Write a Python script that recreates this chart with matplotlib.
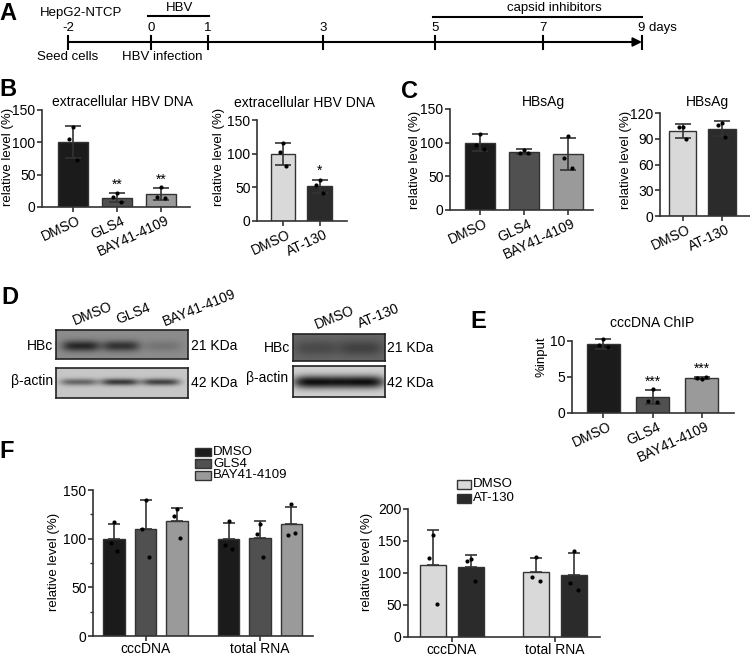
import numpy as np
import matplotlib
matplotlib.use('Agg')
import matplotlib.pyplot as plt
from matplotlib.transforms import Affine2D, ScaledTranslation
from matplotlib.patches import Rectangle

plt.rcParams['font.family'] = ['Liberation Sans', 'DejaVu Sans']
plt.rcParams['font.size'] = 10

# ---------------- data ----------------
# A: timeline
days = [-2, 0, 1, 3, 5, 7, 9]
day_notes = {-2: 'Seed cells', 0: 'HBV infection'}
hbv_period = (0, 1)
capsid_period = (5, 9)

# B
b1_labels = ['DMSO', 'GLS4', 'BAY41-4109']
b1_means = [100, 14.5, 20.0]
b1_sds = [25, 7.5, 9.5]
b1_points = [[123, 104, 73], [21, 15, 7], [31, 15, 14]]
b1_stars = ['', '**', '**']

b2_labels = ['DMSO', 'AT-130']
b2_means = [100, 51.5]
b2_sds = [16.5, 10]
b2_points = [[116, 102, 82], [61, 53, 41]]
b2_stars = ['', '*']

# C
c1_labels = ['DMSO', 'GLS4', 'BAY41-4109']
c1_means = [100, 86.4, 83.4]
c1_sds = [12.5, 3.5, 23.5]
c1_points = [[113, 97, 90], [89, 85, 85], [110, 77, 63]]

c2_labels = ['DMSO', 'AT-130']
c2_means = [99.3, 101.9]
c2_sds = [8, 9]
c2_points = [[104, 104, 90], [108, 106, 92]]

# D: blot band intensities (relative darkness)
d1_lanes = ['DMSO', 'GLS4', 'BAY41-4109']
d1_hbc = [0.85, 0.75, 0.2]
d1_actin = [0.55, 0.8, 0.75]
d2_lanes = ['DMSO', 'AT-130']
d2_hbc = [0.35, 0.45]
d2_actin = [0.95, 0.95]

# E
e_labels = ['DMSO', 'GLS4', 'BAY41-4109']
e_means = [9.63, 2.2, 4.85]
e_sds = [0.68, 1.0, 0.12]
e_points = [[10.3, 9.4, 9.2], [3.4, 1.7, 1.5], [4.7, 4.9, 4.95]]
e_stars = ['', '***', '***']

# F
f_groups = ['cccDNA', 'total RNA']
f1_series = ['DMSO', 'GLS4', 'BAY41-4109']
f1_means = [[100, 100], [110, 100.3], [117.8, 114.7]]
f1_sds = [[15.5, 15.8], [29.5, 17.7], [14, 17.5]]
f1_points = [[[117, 96, 87], [118, 93, 89]],
             [[140, 110, 81], [115, 105, 81]],
             [[130, 123, 101], [136, 104, 106]]]

f2_series = ['DMSO', 'AT-130']
f2_means = [[112, 101.6], [109, 97.4]]
f2_sds = [[55, 21.5], [19.6, 33.6]]
f2_points = [[[160, 124, 52], [125, 93, 88]],
             [[122, 119, 87], [135, 85, 73]]]

# ---------------- style ----------------
C_BLACK = '#1b1b1b'
C_DARK = '#505050'
C_MID = '#9a9a9a'
C_LIGHT = '#d9d9d9'
C_AT = '#2b2b2b'
EDGE = '#333333'
JIT = [0.0, -0.09, 0.09]
FS_TICK = 10
FS_LAB = 9.5
FS_TXT = 10
FS_TL = 9.5
FS_LEG = 9.5

W, H = 750, 656
fig = plt.figure(figsize=(7.5, 6.56), dpi=100)
PX = Affine2D().scale(1 / W, -1 / H).translate(0, 1) + fig.transFigure


def px_axes(x0, ytop, x1, ybot):
    return fig.add_axes([x0 / W, 1 - ybot / H, (x1 - x0) / W, (ybot - ytop) / H])


def ptext(x, y, s, **kw):
    fig.text(x, y, s, transform=PX, **kw)


def style(ax, yticks, ymax, minor=None):
    ax.set_ylim(0, ymax)
    ax.set_yticks(yticks)
    if minor is not None:
        ax.set_yticks(minor, minor=True)
    for s in ['top', 'right']:
        ax.spines[s].set_visible(False)
    for s in ['left', 'bottom']:
        ax.spines[s].set_color(EDGE)
        ax.spines[s].set_linewidth(1.2)
    ax.tick_params(direction='out', length=3.5, width=1.2, color=EDGE,
                   labelsize=FS_TICK, pad=1.2)
    ax.tick_params(which='minor', direction='out', length=2, width=1, color=EDGE)
    ax.patch.set_alpha(0)


def simple_bars(ax, labels, means, sds, pts, colors, stars, xlim, width=0.68, capsize=5.5):
    x = np.arange(len(labels))
    ax.bar(x, means, width=width, color=colors, edgecolor=EDGE, linewidth=1, zorder=2)
    ax.errorbar(x, means, yerr=[sds, sds], fmt='none', ecolor=EDGE, elinewidth=1.2,
                capsize=capsize, capthick=1.2, zorder=3, clip_on=False)
    for xi, p in zip(x, pts):
        ax.scatter(xi + np.array(JIT[:len(p)]), p, s=9, color='black', zorder=4,
                   clip_on=False, linewidths=0)
    if stars:
        for xi, m, s, st in zip(x, means, sds, stars):
            if st:
                ax.annotate(st, (xi, m + s), xytext=(0, 1), textcoords='offset points',
                            ha='center', va='bottom', fontsize=10)
    ax.set_xlim(*xlim)
    ax.set_xticks(x)
    ax.set_xticklabels(labels, rotation=25, ha='right', rotation_mode='anchor')
    shift = ScaledTranslation(4 / 100, 0, fig.dpi_scale_trans)
    for t in ax.get_xticklabels():
        t.set_transform(t.get_transform() + shift)


def group_bars(ax, groups, series, means, sds, pts, colors, xlim, offset, width, capsize):
    g = np.arange(len(groups))
    n = len(series)
    for i in range(n):
        xs = g + (i - (n - 1) / 2) * offset
        ax.bar(xs, means[i], width=width, color=colors[i], edgecolor=EDGE, linewidth=1, zorder=2)
        ax.errorbar(xs, means[i], yerr=[[0] * len(groups), sds[i]], fmt='none', ecolor=EDGE,
                    elinewidth=1.2, capsize=capsize, capthick=1.2, zorder=3, clip_on=False)
        for xj, p in zip(xs, pts[i]):
            ax.scatter(xj + np.array(JIT[:len(p)]) * width * 1.6, p, s=9, color='black',
                       zorder=4, clip_on=False, linewidths=0)
    ax.set_xlim(*xlim)
    ax.set_xticks(g)
    ax.set_xticklabels(groups, fontsize=FS_TICK)
    ax.tick_params(axis='x', pad=0.5)


def legend_boxes(x, y0, dy, names, colors, bw=16, bh=8.5):
    ov = fig.add_axes([0, 0, 1, 1], zorder=5)
    ov.set_xlim(0, W)
    ov.set_ylim(H, 0)
    ov.axis('off')
    for k, (nm, c) in enumerate(zip(names, colors)):
        yc = y0 + k * dy
        ov.add_patch(Rectangle((x, yc - bh / 2), bw, bh, facecolor=c, edgecolor=EDGE, lw=1))
        ov.text(x + bw + 2, yc, nm, ha='left', va='center', fontsize=FS_LEG)


# ---------------- panel letters ----------------
for letter, (lx, ly) in {'A': (8, 13), 'B': (8, 89), 'C': (410, 91), 'D': (10, 297),
                         'E': (478, 322), 'F': (7, 452)}.items():
    ptext(lx, ly, letter, fontsize=17, fontweight='bold', ha='center', va='center')

# ---------------- A: timeline ----------------
tick_px = [68, 151, 208, 323, 435, 543, 642]
axA = fig.add_axes([0, 0, 1, 1], zorder=0)
axA.set_xlim(0, W)
axA.set_ylim(H, 0)
axA.axis('off')


def dx(d):
    return np.interp(d, days, tick_px)


axA.annotate('', xy=(dx(days[-1]), 42), xytext=(dx(days[0]), 42),
             arrowprops=dict(arrowstyle='-|>', lw=1.5, color='black', mutation_scale=13,
                             shrinkA=0, shrinkB=0))
for d in days:
    axA.plot([dx(d), dx(d)], [36, 49], color='black', lw=1.5)
    if d == days[-1]:
        axA.text(dx(d) - 3.5, 28, f'{d} days', ha='left', va='center', fontsize=FS_TL)
    else:
        axA.text(dx(d), 28, f'{d}', ha='center', va='center', fontsize=FS_TL)
for d, note in day_notes.items():
    axA.text(dx(d) + (0 if d != 0 else 11), 57, note, ha='center', va='center', fontsize=FS_TL)
axA.text(40, 13, 'HepG2-NTCP', ha='left', va='center', fontsize=FS_TL)
axA.plot([dx(hbv_period[0]) - 3, dx(hbv_period[1]) + 1], [16, 16], color='black', lw=1.5)
axA.text((dx(hbv_period[0]) + dx(hbv_period[1])) / 2, 8, 'HBV', ha='center', va='center',
         fontsize=FS_TL)
axA.plot([dx(capsid_period[0]) - 2, dx(capsid_period[1])], [17, 17], color='black', lw=1.5)
axA.text(554, 8, 'capsid inhibitors', ha='center', va='center', fontsize=FS_TL)

# ---------------- B ----------------
axB1 = px_axes(42, 109.5, 190, 207)
style(axB1, [0, 50, 100, 150], 150)
simple_bars(axB1, b1_labels, b1_means, b1_sds, b1_points, [C_BLACK, C_DARK, C_MID],
            b1_stars, (-0.705, 2.66))
axB1.set_ylabel('relative level (%)', fontsize=FS_LAB, va='center')
axB1.yaxis.set_label_coords(8, 157, transform=PX)
ptext(122, 102, 'extracellular HBV DNA', ha='center', va='center', fontsize=FS_TXT)

axB2 = px_axes(257, 120, 347, 221)
style(axB2, [0, 50, 100, 150], 150)
simple_bars(axB2, b2_labels, b2_means, b2_sds, b2_points, [C_LIGHT, C_AT],
            b2_stars, (-0.71, 1.75), width=0.67)
axB2.set_ylabel('relative level (%)', fontsize=FS_LAB, va='center')
axB2.yaxis.set_label_coords(219, 157, transform=PX)
ptext(305, 103, 'extracellular HBV DNA', ha='center', va='center', fontsize=FS_TXT)

# ---------------- C ----------------
axC1 = px_axes(450, 109, 593, 210)
style(axC1, [0, 50, 100, 150], 150)
simple_bars(axC1, c1_labels, c1_means, c1_sds, c1_points, [C_BLACK, C_DARK, C_MID],
            None, (-0.68, 2.57))
axC1.set_ylabel('relative level (%)', fontsize=FS_LAB, va='center')
axC1.yaxis.set_label_coords(415, 160, transform=PX)
ptext(543, 102, 'HBsAg', ha='center', va='center', fontsize=FS_TXT)

axC2 = px_axes(660, 113, 750, 216)
style(axC2, [0, 30, 60, 90, 120], 120)
simple_bars(axC2, c2_labels, c2_means, c2_sds, c2_points, [C_LIGHT, C_AT],
            None, (-0.58, 1.72), width=0.7)
axC2.set_ylabel('relative level (%)', fontsize=FS_LAB, va='center')
axC2.yaxis.set_label_coords(626, 160, transform=PX)
ptext(707, 102, 'HBsAg', ha='center', va='center', fontsize=FS_TXT)

# ---------------- D: western blots ----------------


def blot(x0, y0, x1, y1, centers, inten, bg, band_w, band_h, yc, dark=0.08):
    ax = px_axes(x0, y0, x1, y1)
    xs = np.linspace(x0, x1, 240)
    ys = np.linspace(y0, y1, 60)
    X, Y = np.meshgrid(xs, ys)
    dk = np.zeros_like(X)
    for c, it in zip(centers, inten):
        dk += it * np.exp(-((X - c) / band_w) ** 4) * np.exp(-((Y - yc) / band_h) ** 2)
    img = bg - np.clip(dk, 0, 1) * (bg - dark)
    ax.imshow(img, cmap='gray', vmin=0, vmax=1, extent=[x0, x1, y1, y0], aspect='auto',
              interpolation='bilinear')
    ax.set_xticks([])
    ax.set_yticks([])
    for s in ax.spines.values():
        s.set_color('#222222')
        s.set_linewidth(1.2)
    return ax


blot(56, 330, 188, 359, [81, 121, 163], d1_hbc, 0.55, 19, 5.5, 346)
blot(56, 368, 188, 398, [79, 120, 161], d1_actin, 0.78, 19, 3.5, 382)
blot(293, 334, 385, 361, [317, 361], d2_hbc, 0.40, 22, 8, 348)
blot(293, 366, 385, 397, [317, 361], d2_actin, 0.82, 24, 6.5, 382, dark=0.02)

for lbl, (x, y) in zip(d1_lanes, [(75, 325), (118, 324), (165, 326)]):
    ptext(x, y, lbl, rotation=22, ha='left', va='baseline', rotation_mode='anchor', fontsize=FS_TXT)
for lbl, (x, y) in zip(d2_lanes, [(317, 329), (360, 328)]):
    ptext(x, y, lbl, rotation=22, ha='left', va='baseline', rotation_mode='anchor', fontsize=FS_TXT)
for (x, y, s, ha) in [(53, 346, 'HBc', 'right'), (53, 381, 'β-actin', 'right'),
                      (191, 346, '21 KDa', 'left'), (191, 383, '42 KDa', 'left'),
                      (290, 348, 'HBc', 'right'), (288, 378, 'β-actin', 'right'),
                      (387, 348, '21 KDa', 'left'), (387, 383, '42 KDa', 'left')]:
    ptext(x, y, s, ha=ha, va='center', fontsize=FS_TXT)

# ---------------- E ----------------
axE = px_axes(572, 341, 734, 413)
style(axE, [0, 5, 10], 10)
simple_bars(axE, e_labels, e_means, e_sds, e_points, [C_BLACK, C_DARK, C_MID],
            e_stars, (-0.64, 2.66), width=0.67)
axE.set_ylabel('%input', fontsize=FS_LAB, va='center')
axE.yaxis.set_label_coords(541, 357, transform=PX)
ptext(652, 323, 'cccDNA ChIP', ha='center', va='center', fontsize=FS_TXT)

# ---------------- F ----------------
axF1 = px_axes(93, 490, 313, 636)
style(axF1, [0, 50, 100, 150], 150, minor=[25, 75, 125])
group_bars(axF1, f_groups, f1_series, f1_means, f1_sds, f1_points, [C_BLACK, C_DARK, C_MID],
           (-0.459, 1.463), 0.275, 0.185, 4.5)
axF1.set_ylabel('relative level (%)', fontsize=FS_LAB, va='center')
axF1.yaxis.set_label_coords(54, 562, transform=PX)
legend_boxes(195, 452, 11.7, f1_series, [C_BLACK, C_DARK, C_MID])

axF2 = px_axes(408, 509, 600, 637)
style(axF2, [0, 50, 100, 150, 200], 200)
group_bars(axF2, f_groups, f2_series, f2_means, f2_sds, f2_points, [C_LIGHT, C_AT],
           (-0.428, 1.44), 0.37, 0.253, 4.5)
axF2.set_ylabel('relative level (%)', fontsize=FS_LAB, va='center')
axF2.yaxis.set_label_coords(367, 562, transform=PX)
legend_boxes(457, 484, 14, f2_series, [C_LIGHT, C_AT], bw=14, bh=9)

fig.savefig('out.png', dpi=100)
